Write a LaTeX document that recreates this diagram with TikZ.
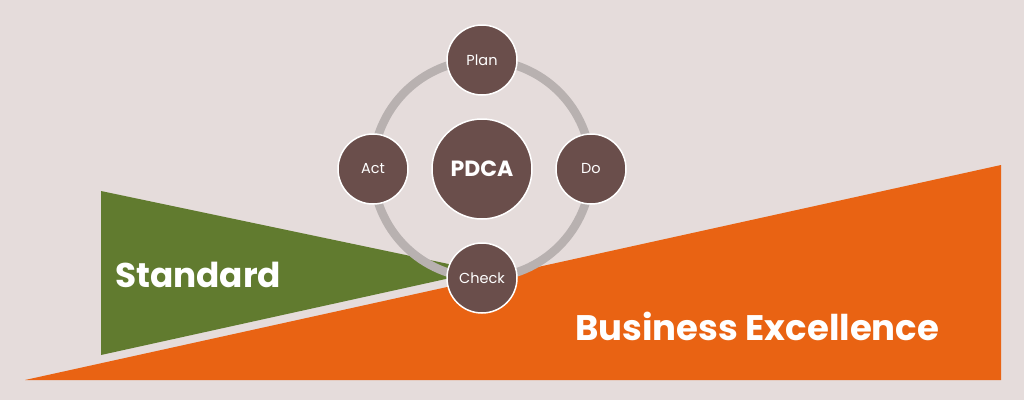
\documentclass[tikz,border=0pt]{standalone}
\usepackage{fontspec}
\setmainfont{Poppins}
\definecolor{bgc}{HTML}{E5DCDB}
\definecolor{stdgreen}{HTML}{617B2F}
\definecolor{beorange}{HTML}{E96313}
\definecolor{pdbrown}{HTML}{6A4E4B}
\definecolor{ringgray}{HTML}{B8B1B0}
\begin{document}
\begin{tikzpicture}[x=1pt,y=-1pt,
  phase/.style={circle,fill=pdbrown,draw=white,line width=1.5pt,minimum size=70pt,inner sep=0pt,text=white,font=\fontsize{14.5}{17}\selectfont},
  hub/.style={phase,minimum size=100pt,font=\fontsize{22}{26}\selectfont\bfseries},
  bigtext/.style={text=white,inner sep=0pt}]
\fill[bgc] (0,0) rectangle (1024,400);
\useasboundingbox (0,0) rectangle (1024,400);
% orange wedge
\fill[beorange] (25,380) -- (1001,380) -- (1001,165) -- cycle;
% green wedge
\fill[stdgreen] (101,191) -- (101,355) -- (482,271) -- cycle;
% ring
\draw[ringgray,line width=8.5pt] (482,169) circle[radius=109];
% nodes
\node[hub] (pdca) at (482,169) {PDCA};
\node[phase] (plan) at (482,60) {Plan};
\node[phase] (do) at (591,169) {Do};
\node[phase] (check) at (482,278) {Check};
\node[phase] (act) at (373,169) {Act};
\node[bigtext,anchor=base west,font=\fontsize{34.3}{38}\selectfont\bfseries] (std) at (115,287) {Standard};
\node[bigtext,anchor=base west,font=\fontsize{35.5}{40}\selectfont\bfseries] (be) at (575,340) {Business Excellence};
\end{tikzpicture}
\end{document}
